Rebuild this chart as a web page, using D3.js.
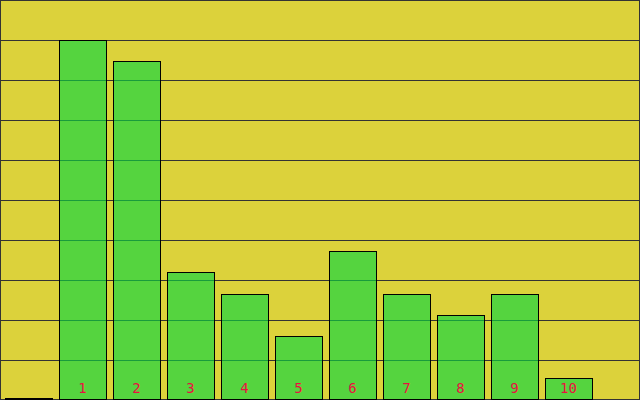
<!DOCTYPE html>
<html>
<head>
<meta charset="utf-8">
<script src="https://cdn.jsdelivr.net/npm/d3@7"></script>
<style>
  html, body { margin: 0; padding: 0; background: #fff; }
  svg { display: block; }
</style>
</head>
<body>
<div id="chart"></div>
<script>
// bar values, index 0 is the empty slot on the left
const indices = [0, 1, 2, 3, 4, 5, 6, 7, 8, 9, 10];
const values = [0, 9.0, 8.475, 3.2, 2.65, 1.6, 3.725, 2.65, 2.125, 2.65, 0.55];
const labels = ['', '1', '2', '3', '4', '5', '6', '7', '8', '9', '10'];
const gridTicks = [1, 2, 3, 4, 5, 6, 7, 8, 9];

let dim = { width: 640, height: 400 };

let svg = d3.select('#chart').append('svg')
    .attr('width', dim.width)
    .attr('height', dim.height);

// background
svg.append('rect')
    .attr('x', 0).attr('y', 0)
    .attr('width', dim.width).attr('height', dim.height)
    .attr('fill', '#dcd23b');

let scaleX = d3.scaleBand()
    .domain(indices)
    .range([5, 592])
    .paddingInner(7 / 54)
    .paddingOuter(0);

let scaleY = d3.scaleLinear()
    .domain([0, 10])
    .range([400, 0]);

// grid lines (drawn under the translucent bars)
svg.append('g')
  .selectAll('line')
  .data(gridTicks)
  .join('line')
    .attr('x1', 0)
    .attr('x2', dim.width)
    .attr('y1', d => Math.round(scaleY(d)) + 0.5)
    .attr('y2', d => Math.round(scaleY(d)) + 0.5)
    .attr('stroke', '#333')
    .attr('stroke-width', 1);

// frame
svg.append('rect')
    .attr('x', 0.5).attr('y', 0.5)
    .attr('width', dim.width - 1).attr('height', dim.height - 1)
    .attr('fill', 'none')
    .attr('stroke', '#333')
    .attr('stroke-width', 1);

// bars, bottom edge sits on the last pixel row
let base = Math.round(scaleY(0)) - 1;
svg.append('g')
  .selectAll('rect')
  .data(indices)
  .join('rect')
    .attr('x', i => Math.round(scaleX(i)) + 0.5)
    .attr('y', i => Math.min(base - 1, Math.round(scaleY(values[i]))) + 0.5)
    .attr('width', Math.round(scaleX.bandwidth()))
    .attr('height', i => Math.max(1, base - Math.round(scaleY(values[i]))))
    .attr('fill', '#0cd542')
    .attr('fill-opacity', 0.65)
    .attr('stroke', '#000')
    .attr('stroke-width', 1);

// labels inside the bars
svg.append('g')
  .selectAll('text')
  .data(indices)
  .join('text')
    .attr('x', i => scaleX(i) + scaleX.bandwidth() / 2)
    .attr('y', 393)
    .attr('text-anchor', 'middle')
    .attr('font-family', 'DejaVu Sans Mono, monospace')
    .attr('font-size', 14)
    .attr('fill', '#ea1040')
    .text(i => labels[i]);
</script>
</body>
</html>
